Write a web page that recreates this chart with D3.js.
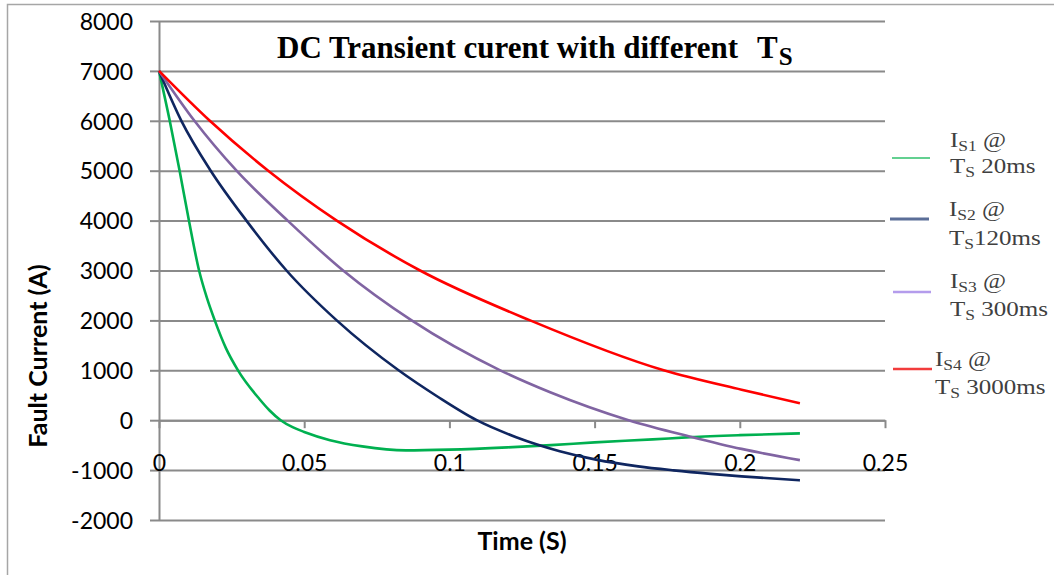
<!DOCTYPE html>
<html>
<head>
<meta charset="utf-8">
<script src="https://cdn.jsdelivr.net/npm/d3@7/dist/d3.min.js"></script>
<style>
  html, body { margin: 0; padding: 0; background: #fff; }
  svg { display: block; }
  text { white-space: pre; }
</style>
</head>
<body>
<script>
// Time samples (s) and fault current (A) for each source time constant
const timeS1 = [0, 0.0037, 0.0071, 0.0103, 0.0138, 0.0165, 0.0192, 0.0230, 0.0272, 0.0345, 0.0380, 0.0419, 0.0460, 0.0500, 0.0589, 0.0700, 0.0850, 0.1000, 0.1200, 0.1350, 0.1500, 0.1700, 0.1830, 0.2000, 0.2207];
const currentS1 = [7000, 6000, 5000, 4000, 3000, 2450, 2000, 1450, 1000, 430, 200, 0, -140, -235, -400, -525, -605, -590, -545, -500, -445, -385, -340, -300, -265];

const timeS2 = [0, 0.0077, 0.0178, 0.0301, 0.0439, 0.0612, 0.0825, 0.0960, 0.1094, 0.1230, 0.1380, 0.1505, 0.1650, 0.1772, 0.1900, 0.2006, 0.2207];
const currentS2 = [7000, 6000, 5000, 4000, 3000, 2000, 1000, 470, 0, -340, -620, -790, -925, -1005, -1075, -1125, -1205];

const timeS3 = [0, 0.0122, 0.0267, 0.0443, 0.0634, 0.0870, 0.1175, 0.1347, 0.1617, 0.1830, 0.2006, 0.2207];
const currentS3 = [7000, 6000, 5000, 4000, 3000, 2000, 1000, 560, 0, -330, -575, -800];

const timeS4 = [0, 0.0175, 0.0376, 0.0612, 0.0899, 0.1278, 0.1738, 0.2006, 0.2207];
const currentS4 = [7000, 6000, 5000, 4000, 3000, 2000, 1000, 610, 340];

const seriesColors = ["#00b050", "#0f2660", "#8064a2", "#ff0000"];
const legendColors = ["#2fc06c", "#5b6e98", "#b49cec", "#f23c3c"];
const legendIndex = ["S1", "S2", "S3", "S4"];
const legendTs = [" 20ms", "120ms", " 300ms", " 3000ms"];

const xTicks = [0, 0.05, 0.1, 0.15, 0.2, 0.25];
const yTicks = [-2000, -1000, 0, 1000, 2000, 3000, 4000, 5000, 6000, 7000, 8000];

const W = 1054, H = 575;
const plot = { left: 159, right: 885, top: 21, bottom: 520 };

const svg = d3.select("body").append("svg").attr("width", W).attr("height", H);

// outer frame
svg.append("rect")
  .attr("x", 7.5).attr("y", 4.5)
  .attr("width", W + 20).attr("height", H + 20)
  .attr("fill", "none").attr("stroke", "#a6a6a6").attr("stroke-width", 1.5);

const x = d3.scaleLinear().domain([0, 0.25]).range([plot.left, plot.right]);
const y = d3.scaleLinear().domain([-2000, 8000]).range([plot.bottom, plot.top]);

const gridColor = "#8a8a8a";
const labelFont = "Lato, 'Open Sans', sans-serif";

// horizontal gridlines
const grid = svg.append("g").attr("transform", `translate(${plot.left},0)`)
  .call(d3.axisLeft(y).tickValues(yTicks).tickSize(-(plot.right - plot.left)).tickFormat(""));
grid.select(".domain").remove();
grid.selectAll(".tick line").attr("stroke", gridColor).attr("stroke-width", 2);

// y axis with outer ticks and labels
const yAxis = svg.append("g").attr("transform", `translate(${plot.left},0)`)
  .call(d3.axisLeft(y).tickValues(yTicks).tickSizeInner(9).tickSizeOuter(0)
    .tickPadding(17).tickFormat(d => String(d)));
yAxis.select(".domain").attr("stroke", gridColor).attr("stroke-width", 2);
yAxis.selectAll(".tick line").attr("stroke", gridColor).attr("stroke-width", 2);
yAxis.selectAll(".tick text")
  .attr("font-family", labelFont).attr("font-size", 23).attr("fill", "#000")
  .attr("dy", "0.36em");

// x axis crossing at zero current
const xAxis = svg.append("g").attr("transform", `translate(0,${y(0)})`)
  .call(d3.axisBottom(x).tickValues(xTicks).tickSizeInner(8).tickSizeOuter(0)
    .tickPadding(26).tickFormat(d => String(d)));
xAxis.select(".domain").attr("stroke", gridColor).attr("stroke-width", 2);
xAxis.selectAll(".tick line").attr("stroke", gridColor).attr("stroke-width", 2);
xAxis.selectAll(".tick text")
  .attr("font-family", labelFont).attr("font-size", 23).attr("fill", "#000");

// axis titles
svg.append("text")
  .attr("x", 522).attr("y", 550)
  .attr("text-anchor", "middle")
  .attr("font-family", labelFont).attr("font-weight", "bold").attr("font-size", 25)
  .text("Time (S)");

svg.append("text")
  .attr("transform", "translate(47,356) rotate(-90)")
  .attr("text-anchor", "middle")
  .attr("font-family", labelFont).attr("font-weight", "bold").attr("font-size", 25)
  .text("Fault Current (A)");

// chart title
const title = svg.append("text")
  .attr("x", 277).attr("y", 58)
  .attr("font-family", "'Liberation Serif', 'Times New Roman', serif")
  .attr("font-weight", "bold").attr("font-size", 31).attr("fill", "#000");
title.append("tspan").text("DC Transient curent with different");
title.append("tspan").attr("x", 757).text("T");
title.append("tspan").attr("font-size", 25).attr("dy", 7).attr("dx", 1).text("S");

// curves
const line = d3.line()
  .x(d => x(d[0]))
  .y(d => y(d[1]))
  .curve(d3.curveMonotoneX);

const series = [
  [timeS1, currentS1],
  [timeS2, currentS2],
  [timeS3, currentS3],
  [timeS4, currentS4]
];

series.forEach(([ts, vs], i) => {
  svg.append("path")
    .datum(d3.zip(ts, vs))
    .attr("d", line)
    .attr("fill", "none")
    .attr("stroke", seriesColors[i])
    .attr("stroke-width", 2.6)
    .attr("stroke-linejoin", "round");
});

// legend
const legendRows = [
  { sx1: 892, sx2: 930, sy: 158, sw: 1.6, tx: 950, ty1: 147, ty2: 173 },
  { sx1: 890, sx2: 929, sy: 219, sw: 3.2, tx: 949, ty1: 216, ty2: 245 },
  { sx1: 893, sx2: 931, sy: 292, sw: 2.4, tx: 950, ty1: 288, ty2: 316 },
  { sx1: 893, sx2: 932, sy: 369, sw: 2.4, tx: 935, ty1: 366, ty2: 394 }
];
const legendFont = "'Liberation Serif', 'Times New Roman', serif";

legendRows.forEach((r, i) => {
  svg.append("line")
    .attr("x1", r.sx1).attr("x2", r.sx2).attr("y1", r.sy).attr("y2", r.sy)
    .attr("stroke", legendColors[i]).attr("stroke-width", r.sw);

  const g1 = svg.append("g").attr("transform", `translate(${r.tx},${r.ty1}) scale(1.25,1)`);
  const t1 = g1.append("text").attr("font-family", legendFont).attr("font-size", 20).attr("fill", "#404040");
  t1.append("tspan").text("I");
  t1.append("tspan").attr("font-size", 14).attr("dy", 4).text(legendIndex[i]);
  t1.append("tspan").attr("dy", -4).text(" @");

  const g2 = svg.append("g").attr("transform", `translate(${r.tx},${r.ty2}) scale(1.25,1)`);
  const t2 = g2.append("text").attr("font-family", legendFont).attr("font-size", 20).attr("fill", "#404040");
  t2.append("tspan").text("T");
  t2.append("tspan").attr("font-size", 14).attr("dy", 4).text("S");
  t2.append("tspan").attr("dy", -4).text(legendTs[i]);
});
</script>
</body>
</html>
